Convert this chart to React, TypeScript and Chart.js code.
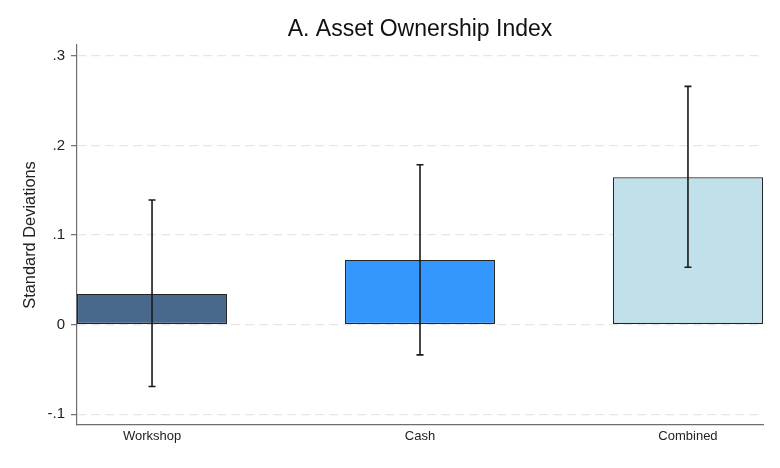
import React, { useEffect, useRef } from "react";
import { Chart, registerables } from "chart.js";

Chart.register(...registerables);

const TITLE = "A. Asset Ownership Index";
const Y_TITLE = "Standard Deviations";
const categories = ["Workshop", "Cash", "Combined"];
const means = [0.0342, 0.0721, 0.1643];
const ciLower = [-0.0691, -0.0338, 0.064];
const ciUpper = [0.139, 0.1784, 0.2658];
const barColors = ["#48698c", "#3497fd", "#c0e0ea"];
const yTicks = [-0.1, 0, 0.1, 0.2, 0.3];
const yTickLabels = ["-.1", "0", ".1", ".2", ".3"];

const FONT = "'Liberation Sans', Arial, sans-serif";

const errorBarPlugin = {
  id: "errorBars",
  afterDatasetsDraw(chart: any) {
    const ctx = chart.ctx;
    const xs = chart.scales.x;
    const ys = chart.scales.y;
    ctx.save();
    ctx.strokeStyle = "#1a1a1a";
    ctx.lineWidth = 1.6;
    for (let i = 0; i < categories.length; i++) {
      const x = xs.getPixelForValue(i);
      const yl = ys.getPixelForValue(ciLower[i]);
      const yu = ys.getPixelForValue(ciUpper[i]);
      ctx.beginPath();
      ctx.moveTo(x, yl);
      ctx.lineTo(x, yu);
      ctx.moveTo(x - 3.5, yl);
      ctx.lineTo(x + 3.5, yl);
      ctx.moveTo(x - 3.5, yu);
      ctx.lineTo(x + 3.5, yu);
      ctx.stroke();
    }
    ctx.restore();
  },
};

const titlePlugin = {
  id: "centerTitle",
  afterDraw(chart: any) {
    const ctx = chart.ctx;
    const a = chart.chartArea;
    ctx.save();
    ctx.fillStyle = "#111111";
    ctx.font = `23px ${FONT}`;
    ctx.textAlign = "center";
    ctx.textBaseline = "middle";
    ctx.fillText(TITLE, (a.left + a.right) / 2, 30);
    ctx.restore();
  },
};

export default function App() {
  const ref = useRef<HTMLCanvasElement | null>(null);

  useEffect(() => {
    if (!ref.current) return;
    const chart = new Chart(ref.current, {
      type: "bar",
      data: {
        datasets: [
          {
            data: means.map((v, i) => ({ x: i, y: v })),
            backgroundColor: barColors,
            borderColor: "#252525",
            borderWidth: 1.1,
            borderSkipped: false,
            barPercentage: 0.56,
            categoryPercentage: 1,
          },
        ],
      },
      options: {
        animation: false,
        responsive: false,
        maintainAspectRatio: false,
        events: [],
        layout: { padding: { top: 45, right: 17, left: 0, bottom: 0 } },
        plugins: {
          legend: { display: false },
          tooltip: { enabled: false },
          title: { display: false },
        },
        scales: {
          x: {
            type: "linear",
            offset: false,
            min: -0.28,
            max: 2.28,
            afterBuildTicks: (s: any) => {
              s.ticks = categories.map((_, i) => ({ value: i }));
            },
            afterFit: (s: any) => {
              s.height = 43;
            },
            ticks: {
              callback: (v: any) => categories[Math.round(v)] ?? "",
              color: "#222222",
              font: { family: FONT, size: 13 },
              padding: 4,
              maxRotation: 0,
            },
            grid: { display: false, drawTicks: false, offset: false },
            border: { display: true, color: "#6e6e6e", width: 1.2 },
          },
          y: {
            type: "linear",
            min: -0.112,
            max: 0.312,
            afterBuildTicks: (s: any) => {
              s.ticks = yTicks.map((v) => ({ value: v }));
            },
            afterFit: (s: any) => {
              s.width = 77;
            },
            ticks: {
              callback: (v: any) => {
                const idx = yTicks.findIndex((t) => Math.abs(t - v) < 1e-9);
                return idx >= 0 ? yTickLabels[idx] : "";
              },
              color: "#222222",
              font: { family: FONT, size: 15 },
              padding: 6,
            },
            grid: {
              color: "#e6e6e6",
              lineWidth: 1.3,
              tickLength: 6,
              tickColor: "#6e6e6e",
              tickWidth: 1.2,
              tickBorderDash: [],
            },
            border: { display: true, color: "#6e6e6e", width: 1.2, dash: [9, 5] },
            title: {
              display: true,
              text: Y_TITLE,
              color: "#222222",
              font: { family: FONT, size: 16.4 },
              padding: { top: 21, bottom: 0 },
            },
          },
        },
      },
      plugins: [errorBarPlugin, titlePlugin],
    });
    return () => chart.destroy();
  }, []);

  return (
    <div style={{ position: "fixed", left: 0, top: 0, width: 780, height: 468, background: "#ffffff" }}>
      <canvas ref={ref} width={780} height={468} style={{ display: "block" }} />
    </div>
  );
}
